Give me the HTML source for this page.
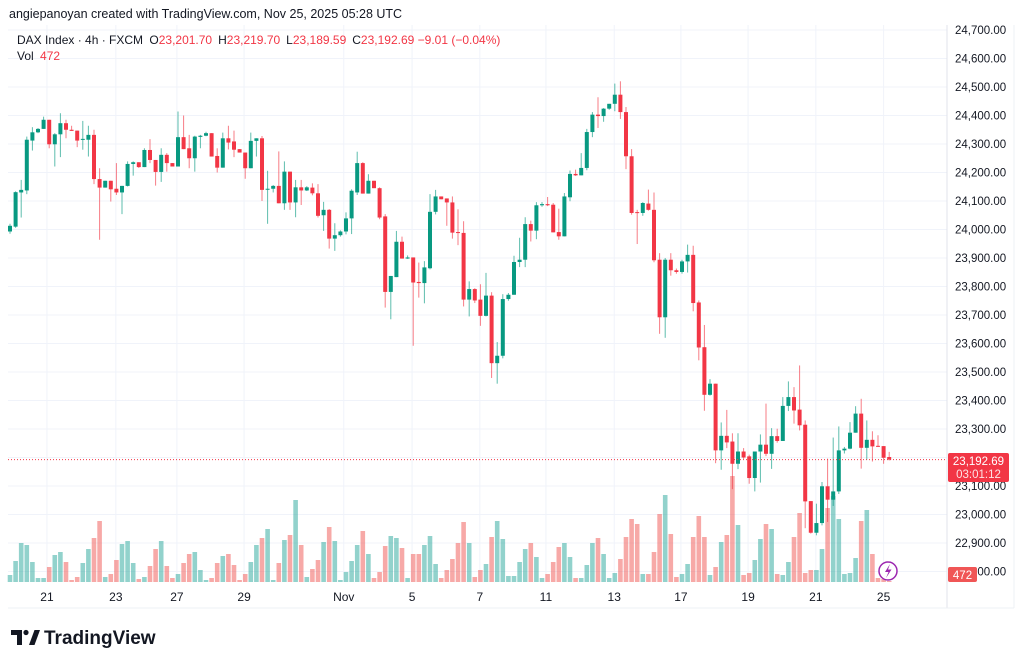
<!DOCTYPE html>
<html><head><meta charset="utf-8"><style>
html,body{margin:0;padding:0;background:#fff;}
svg{display:block;font-family:"Liberation Sans",sans-serif;}
</style></head><body>
<svg id="chart" width="1024" height="665" viewBox="0 0 1024 665" xmlns="http://www.w3.org/2000/svg">
<rect x="0" y="0" width="1024" height="665" fill="#ffffff"/>
<g id="grid"></g>
<g id="vol"></g>
<g id="candles"></g>
<line x1="8" y1="459.6" x2="947" y2="459.6" stroke="#f23645" stroke-width="1" stroke-dasharray="1,2"/>
<line x1="947" y1="25" x2="947" y2="608" stroke="#e0e3eb"/>
<line x1="1014" y1="25" x2="1014" y2="608" stroke="#eef0f4"/>
<line x1="8" y1="608" x2="1014" y2="608" stroke="#eef0f4"/>
<g id="yaxis" font-size="11.5" fill="#131722"></g>
<g id="xaxis" font-size="12" fill="#131722"></g>
<g>
<rect x="948" y="453" width="61" height="29" rx="2" fill="#f23645"/>
<text x="978.5" y="465" text-anchor="middle" font-size="11.5" fill="#fff">23,192.69</text>
<text x="978.5" y="478" text-anchor="middle" font-size="11.5" fill="#fde3e5">03:01:12</text>
</g>
<g>
<rect x="948" y="567" width="29" height="15" rx="2" fill="#f05656"/>
<text x="962.5" y="579" text-anchor="middle" font-size="11.5" fill="#fff">472</text>
</g>
<text x="9" y="18" font-size="12.5" fill="#131722">angiepanoyan created with TradingView.com, Nov 25, 2025 05:28 UTC</text>
<text x="17" y="44" font-size="12" fill="#131722">DAX Index · 4h · FXCM <tspan dx="3">O</tspan><tspan fill="#f23645">23,201.70</tspan><tspan dx="6">H</tspan><tspan fill="#f23645">23,219.70</tspan><tspan dx="6">L</tspan><tspan fill="#f23645">23,189.59</tspan><tspan dx="6">C</tspan><tspan fill="#f23645">23,192.69 −9.01 (−0.04%)</tspan></text>
<text x="17" y="60" font-size="12" fill="#131722">Vol <tspan dx="3" fill="#f23645">472</tspan></text>
<g>
<circle cx="888" cy="571" r="9" fill="#fff" stroke="#9c27b0" stroke-width="1.5"/>
<path d="M890 564 L885 572 L888.5 572 L886 578 L891.5 569.5 L888 569.5 Z" fill="#9c27b0"/>
</g>
<g>
<path d="M11 630 H22 V645 H17 V635 H11 Z" fill="#131722"/>
<circle cx="26" cy="632.5" r="2.6" fill="#131722"/>
<path d="M29 645 L34.5 630 H40 L34.5 645 Z" fill="#131722"/>
<text x="44" y="644" font-size="19" font-weight="bold" fill="#131722">TradingView</text>
</g>
</svg>
<script>
const opens=[23993,24010,24130,24137,24312,24341,24353,24385,24299,24334,24373,24350,24347,24315,24315,24332,24177,24147,24171,24143,24130,24153,24230,24236,24219,24279,24244,24202,24262,24233,24221,24324,24285,24250,24325,24329,24338,24258,24217,24320,24309,24282,24270,24215,24311,24320,24140,24143,24153,24092,24203,24095,24148,24137,24147,24127,24050,24069,23968,23980,23993,24039,24130,24233,24126,24171,24145,24046,23781,23833,23957,23898,23902,23816,23812,23864,24062,24116,24109,24095,23991,23988,23754,23791,23754,23697,23768,23531,23557,23756,23771,23886,23894,24019,23996,24085,24089,24087,23991,23976,24113,24195,24190,24216,24342,24403,24398,24424,24441,24473,24412,24257,24061,24058,24091,24069,23894,23692,23894,23857,23851,23888,23911,23744,23587,23420,23459,23225,23276,23256,23178,23221,23204,23128,23221,23245,23213,23275,23258,23381,23412,23368,23315,23047,22936,22970,23099,23052,23081,23225,23231,23287,23354,23234,23262,23241,23240,23201.7];
const highs=[24020,24134,24174,24326,24359,24356,24396,24385,24338,24408,24385,24364,24347,24381,24364,24350,24215,24171,24171,24233,24153,24239,24239,24236,24285,24317,24244,24285,24268,24233,24414,24400,24332,24329,24332,24343,24338,24285,24340,24364,24347,24282,24270,24340,24320,24328,24206,24156,24274,24239,24203,24174,24174,24152,24162,24159,24097,24072,24022,23997,24060,24141,24273,24236,24194,24171,24148,24054,23837,23995,23975,23909,23902,23884,23889,24124,24139,24116,24109,24116,24071,24029,23818,23794,23808,23848,23780,23605,23773,23777,23908,23971,24043,24031,24096,24096,24114,24093,24073,24128,24207,24210,24268,24353,24412,24464,24426,24441,24512,24520,24430,24282,24069,24096,24140,24130,23917,23900,23917,23863,23894,23947,23943,23751,23665,23475,23459,23323,23367,23285,23285,23233,23210,23221,23281,23389,23303,23301,23412,23467,23447,23523,23330,23047,23038,23114,23196,23270,23309,23237,23324,23380,23406,23330,23292,23278,23240,23219.7];
const lows=[23985,24006,24042,24124,24277,24338,24353,24285,24221,24254,24320,24346,24289,24280,24256,24159,23964,24147,24098,24121,24054,24151,24189,24216,24219,24233,24154,24167,24203,24221,24221,24282,24215,24203,24285,24327,24256,24200,24217,24281,24254,24270,24178,24215,24256,24100,24020,24130,24092,24069,24069,24043,24086,24135,24120,24042,23995,23933,23925,23975,23983,23984,24121,24126,24126,24145,24036,23726,23685,23833,23898,23897,23592,23761,23741,23860,24053,24106,24013,23968,23945,23730,23695,23742,23662,23695,23479,23459,23548,23750,23771,23868,23868,23958,23966,24080,24082,23990,23964,23976,24099,24188,24190,24208,24324,24356,24378,24420,24415,24388,24212,24052,23949,24048,24066,23885,23634,23620,23838,23845,23845,23849,23713,23541,23364,23417,23180,23157,23233,23089,23159,23195,23108,23081,23112,23205,23160,23252,23258,23363,23319,23295,22952,22933,22927,22962,22974,23030,23072,23214,23229,23287,23161,23193,23186,23237,23178,23189.59];
const closes=[24013,24131,24139,24315,24341,24353,24385,24299,24334,24373,24350,24346,24312,24318,24332,24177,24147,24171,24141,24130,24153,24230,24236,24219,24279,24244,24202,24262,24233,24221,24324,24282,24250,24326,24329,24338,24256,24217,24320,24305,24280,24270,24215,24311,24320,24139,24143,24153,24092,24203,24095,24148,24137,24148,24127,24048,24069,23968,23980,23993,24039,24136,24233,24126,24171,24145,24042,23781,23837,23957,23898,23902,23814,23812,23867,24062,24116,24106,24095,23989,23989,23754,23791,23751,23697,23768,23531,23557,23756,23771,23886,23894,24019,23996,24085,24089,24085,23990,23976,24116,24195,24190,24216,24342,24403,24398,24424,24441,24473,24412,24257,24058,24058,24093,24069,23892,23692,23894,23857,23851,23888,23911,23742,23586,23420,23459,23225,23276,23253,23178,23221,23200,23128,23221,23245,23213,23275,23258,23381,23412,23365,23313,23046,22936,22970,23099,23052,23081,23225,23231,23287,23354,23234,23262,23239,23239,23199,23192.69];
const volumes=[7,21,39,37,20,4,4,15,27,30,20,2,5,19,33,44,61,5,8,22,38,41,19,3,5,16,33,41,16,4,8,19,28,30,12,2,4,19,26,28,17,2,8,20,37,44,53,2,19,42,47,82,37,5,13,22,40,55,41,2,10,21,37,51,28,4,10,36,46,44,34,4,28,28,37,46,18,4,12,23,39,60,39,5,12,18,45,61,43,6,6,20,33,39,25,4,8,20,35,39,25,4,4,17,39,44,28,4,9,23,45,63,58,8,8,30,68,87,48,5,8,18,45,66,45,7,15,40,47,106,57,7,9,22,43,58,53,8,7,20,45,69,9,12,12,33,74,86,63,8,9,24,61,72,28,4,3,1];
const priceTicks=[24700,24600,24500,24400,24300,24200,24100,24000,23900,23800,23700,23600,23500,23400,23300,23200,23100,23000,22900,22800];
const timeTickLabels=["21","23","27","29","Nov","5","7","11","13","17","19","21","25"];
const timeTickIndex=[6.6,18.9,29.8,41.8,59.6,71.8,83.9,95.7,107.9,119.8,131.8,143.9,156];

const NS="http://www.w3.org/2000/svg";
function yP(p){return 30+(24700-p)*0.285;}
function xI(i){return 10+i*5.6;}
function yV(v){return 582-v*1.0;}
function mk(tag,attrs,parent){const e=document.createElementNS(NS,tag);for(const k in attrs)e.setAttribute(k,attrs[k]);parent.appendChild(e);return e;}
const G=document.getElementById('grid'),V=document.getElementById('vol'),C=document.getElementById('candles'),YA=document.getElementById('yaxis'),XA=document.getElementById('xaxis');
const UP="#089981",DN="#f23645";
priceTicks.forEach(p=>{
  const l=mk('line',{x1:8,x2:947,y1:yP(p),y2:yP(p),stroke:'#f0f3fa','stroke-width':1},G);
  
  
  const t=mk('text',{x:955,y:yP(p)+4},YA);
  t.textContent=p.toLocaleString('en-US')+'.00';
  
  
});
timeTickIndex.forEach((ix,k)=>{
  const x=xI(ix);
  const l=mk('line',{x1:x,x2:x,y1:25,y2:582,stroke:'#f0f3fa','stroke-width':1},G);
  
  
  const t=mk('text',{x:x,y:601,'text-anchor':'middle'},XA);
  t.textContent=timeTickLabels[k];
  
  
});
for(let i=0;i<closes.length;i++){
  const up=closes[i]>=opens[i];
  const x=xI(i);
  const vb=mk('rect',{x:x-2.3,y:yV(volumes[i]),width:4.6,height:582-yV(volumes[i]),fill:up?'rgba(38,166,154,0.5)':'rgba(239,83,80,0.5)'},V);
  
  
  const col=up?UP:DN;
  const w=mk('line',{x1:x,x2:x,y1:yP(highs[i]),y2:yP(lows[i]),stroke:col,'stroke-width':1,'stroke-opacity':0.65},C);
  
  
  const top=yP(Math.max(opens[i],closes[i])),bot=yP(Math.min(opens[i],closes[i]));
  const b=mk('rect',{x:x-2,y:top,width:4,height:Math.max(1,bot-top),fill:col},C);
  
  
}
</script>
</body></html>
